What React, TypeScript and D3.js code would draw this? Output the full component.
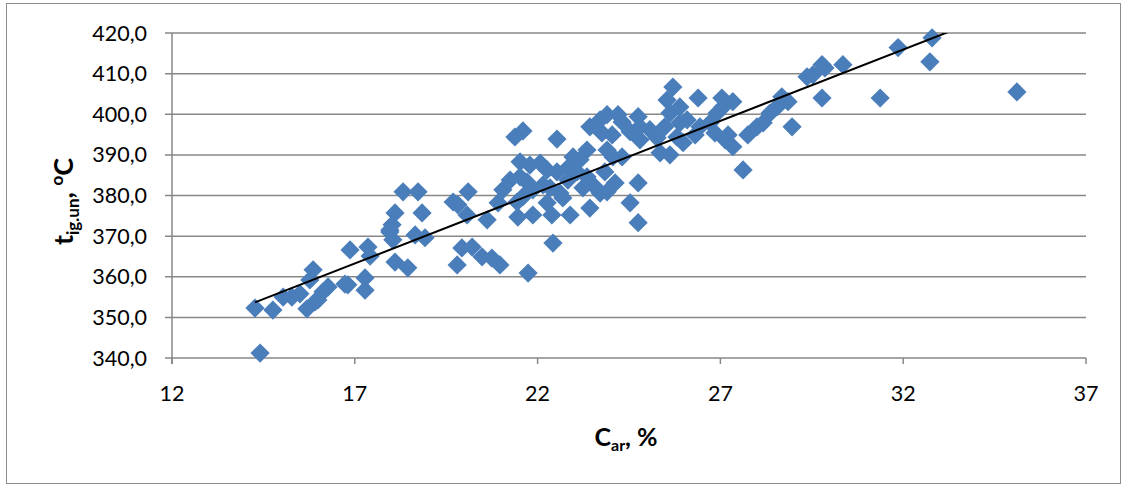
import React from "react";
import * as d3 from "d3";

// C_ar, % values
const carValues: number[] = [
  14.27, 14.41, 14.76, 15.04, 15.28, 15.5, 15.69, 15.86, 15.77, 15.99, 15.91, 16.13, 16.27, 16.73, 16.81,
  16.87, 17.36, 17.42, 17.28, 17.28, 17.96, 18.02, 18.1, 17.96, 18.04, 18.1, 18.45, 18.32, 18.73, 18.84,
  18.65, 18.92,
  19.69, 19.82, 20.1, 20.07, 20.62, 19.8, 19.93, 20.21, 20.48, 20.75, 20.97, 21.74, 22.42, 21.38, 21.6,
  22.53, 21.52, 21.79, 22.07, 22.26, 22.53, 21.25, 21.52, 21.71, 21.05, 20.92, 21.44, 21.6, 21.87, 22.15,
  22.34, 21.46, 21.87, 22.26, 22.39, 22.61, 22.83, 22.89, 22.69, 22.97, 22.83, 23.16, 23.35, 23.08, 23.35,
  23.24, 23.43, 23.57, 23.71, 23.43, 23.71, 23.9, 23.76, 24.04, 23.9, 24.06, 23.84, 24.12, 23.9,
  25.7, 25.54, 25.89, 25.62, 26.39, 27.04, 27.34, 24.2, 24.75, 24.31, 24.8, 25.07, 24.53, 24.8, 25.27,
  25.48, 25.89, 26.09, 25.81, 25.98, 26.31, 26.44, 26.72, 26.91, 27.07, 26.85, 27.21, 27.34, 27.13, 25.35,
  25.62, 24.31, 24.75, 24.53, 24.75, 27.62, 27.75, 28.0, 28.17, 28.36, 28.55, 28.68, 28.85, 28.96,
  29.37, 29.53, 29.78, 29.86, 30.35, 29.78, 31.37, 31.86, 32.79, 32.73, 35.11,
];

// t_ig.un, °C values
const tempValues: number[] = [
  352.3, 341.2, 351.8, 355.0, 355.0, 355.8, 352.1, 361.7, 359.2, 354.3, 353.8, 356.3, 357.5, 358.2, 358.0,
  366.6, 367.3, 365.1, 359.7, 356.7, 371.5, 372.8, 375.7, 371.0, 369.1, 363.6, 362.2, 380.9, 380.9, 375.7,
  370.3, 369.6,
  378.4, 377.7, 380.9, 375.2, 374.0, 362.9, 367.1, 367.3, 364.9, 364.6, 362.9, 360.9, 368.3, 394.4, 395.9,
  393.9, 388.3, 387.5, 388.0, 386.3, 385.8, 383.8, 384.6, 383.3, 381.4, 378.2, 378.4, 379.7, 381.4, 382.6,
  381.9, 374.7, 375.2, 378.2, 375.2, 380.6, 383.8, 375.2, 379.4, 389.5, 386.8, 388.8, 391.2, 385.8, 384.6,
  381.9, 376.9, 382.1, 380.6, 396.9, 398.6, 399.9, 395.4, 394.9, 391.2, 389.5, 385.8, 383.1, 380.9,
  406.7, 403.5, 401.8, 400.3, 404.0, 404.0, 403.1, 399.9, 399.4, 398.1, 396.9, 396.2, 395.7, 393.7, 394.2,
  396.9, 397.9, 398.6, 394.4, 393.0, 394.9, 396.9, 397.9, 400.3, 401.8, 395.4, 394.9, 392.0, 393.7, 390.5,
  390.0, 389.5, 383.1, 378.2, 373.3, 386.3, 394.9, 396.9, 397.9, 400.3, 401.8, 404.3, 403.1, 396.9,
  409.2, 409.7, 412.2, 411.4, 412.2, 404.0, 404.0, 416.4, 418.8, 412.9, 405.5,
];

const xTicks: number[] = [12, 17, 22, 27, 32, 37];
const yTicks: number[] = [340, 350, 360, 370, 380, 390, 400, 410, 420];

// linear trendline coefficients (t = slope * C + intercept)
const trendSlope = 3.51;
const trendIntercept = 303.6;

const W = 1126;
const H = 486;
const plotLeft = 172;
const plotRight = 1086;
const plotTop = 33;
const plotBottom = 358;

const GRID = "#878787";
const MARKER = "#4A7EBB";
const FONT = "Lato, 'Open Sans', sans-serif";

export default function App() {
  const x = d3.scaleLinear().domain([12, 37]).range([plotLeft, plotRight]);
  const y = d3.scaleLinear().domain([340, 420]).range([plotBottom, plotTop]);
  const fmt = (v: number) => v.toFixed(1).replace(".", ",");
  const diamond = d3.symbol().type(d3.symbolSquare).size(185)() as string;

  const points = carValues.map((c, i) => ({ c, t: tempValues[i] }));
  const xMin = d3.min(carValues) as number;
  const xMax = d3.max(carValues) as number;
  const trend = [xMin, xMax].map((c) => ({ c, t: trendSlope * c + trendIntercept }));
  const line = d3
    .line<{ c: number; t: number }>()
    .x((d) => x(d.c))
    .y((d) => y(d.t));

  return (
    <svg
      width={W}
      height={H}
      style={{ position: "absolute", left: 0, top: 0, background: "#fff" }}
      fontFamily={FONT}
    >
      <defs>
        <clipPath id="plotClip">
          <rect x={plotLeft} y={plotTop} width={plotRight - plotLeft} height={plotBottom - plotTop} />
        </clipPath>
      </defs>
      <rect x={6.5} y={3.5} width={1114} height={480} fill="#fff" stroke="#8c8c8c" strokeWidth={1} />

      {/* gridlines */}
      {yTicks.map((v) => (
        <line key={"g" + v} x1={plotLeft - 7} x2={plotRight} y1={y(v)} y2={y(v)} stroke={GRID} strokeWidth={1.5} />
      ))}
      {/* y axis */}
      <line x1={plotLeft} x2={plotLeft} y1={plotTop} y2={plotBottom + 6} stroke={GRID} strokeWidth={1.5} />
      {/* x ticks */}
      {xTicks.map((v) => (
        <line key={"xt" + v} x1={x(v)} x2={x(v)} y1={plotBottom} y2={plotBottom + 6} stroke={GRID} strokeWidth={1.5} />
      ))}

      {/* y tick labels */}
      {yTicks.map((v) => (
        <text key={"yl" + v} x={plotLeft - 25} y={y(v)} dy="0.35em" textAnchor="end" fontSize={21.5} fill="#000">
          {fmt(v)}
        </text>
      ))}
      {/* x tick labels */}
      {xTicks.map((v) => (
        <text key={"xl" + v} x={x(v)} y={401} textAnchor="middle" fontSize={21.5} fill="#000">
          {v}
        </text>
      ))}

      {/* points */}
      <g>
        {points.map((p, i) => (
          <path
            key={"p" + i}
            d={diamond}
            transform={`translate(${x(p.c)},${y(p.t)}) rotate(45)`}
            fill={MARKER}
          />
        ))}
      </g>

      {/* trendline */}
      <path d={line(trend) as string} fill="none" stroke="#000" strokeWidth={2} clipPath="url(#plotClip)" />

      {/* x axis title */}
      <text x={(plotLeft + plotRight) / 2 - 3} y={446} textAnchor="middle" fontSize={25} fontWeight="bold" fill="#000">
        C<tspan fontSize={16} dy={5}>ar</tspan>
        <tspan dy={-5}>, %</tspan>
      </text>

      {/* y axis title */}
      <text
        transform={`translate(73,${(plotTop + plotBottom) / 2 + 6}) rotate(-90)`}
        textAnchor="middle"
        fontSize={27}
        fontWeight="bold"
        fill="#000"
      >
        t<tspan fontSize={17} dy={6}>ig.un</tspan>
        <tspan dy={-6}>, </tspan>
        <tspan fontSize={17} dy={-10}>o</tspan>
        <tspan dy={10}>C</tspan>
      </text>
    </svg>
  );
}
